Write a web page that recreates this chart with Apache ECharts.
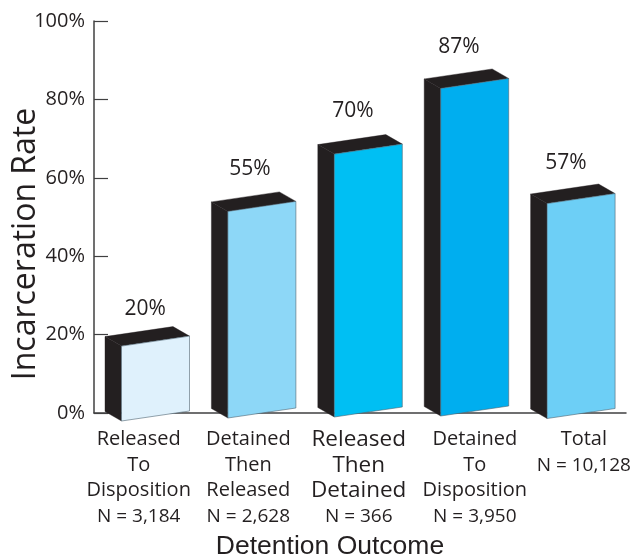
<!DOCTYPE html>
<html><head><meta charset="utf-8">
<style>html,body{margin:0;padding:0;background:#fff}#c{width:644px;height:558px}</style>
<script src="https://cdn.jsdelivr.net/npm/echarts@6/dist/echarts.min.js"></script>
</head><body><div id="c"></div>
<script>
var categories = ['Released\nTo\nDisposition','Detained\nThen\nReleased','Released\nThen\nDetained','Detained\nTo\nDisposition','Total'];
var counts = ['N = 3,184','N = 2,628','N = 366','N = 3,950','N = 10,128'];
var rates = [20,55,70,87,57];
var yTicks = {min:0,max:100,interval:20};
var fillColors = ['#dff1fc','#8dd7f7','#00bff3','#00aeef','#6dcff6'];

// drawing style of the oblique 3D box
var DARK='#231f20', INK='#231f20', SANS='"Open Sans","Noto Sans",sans-serif';
var frontW=68, depthX=16.5, depthY=9.5, slope=10;
var topDrop=[1.5,4,5.5,6.5,4], baseRise=[2,5,6,7,4.5];
var labelDX=[-2,-3.6,-7,-7.4,-6.8], labelDY=[-25.4,-28,-27.4,-25,-26.2];
var catShift=[-8.5,-5.3,-1.3,8.4,11], catSize=[20,20,22.5,20,20];

var rich={};
categories.forEach(function(c,i){
  var s=catShift[i], pad=s<0?[0,-2*s,0,0]:[0,0,0,2*s];
  rich['c'+i]={fontFamily:SANS,fontSize:catSize[i],lineHeight:25.5,color:INK,padding:pad};
  rich['n'+i]={fontFamily:SANS,fontSize:19,lineHeight:25.5,color:INK,padding:pad};
});

function renderBar(params,api){
  var i=api.value(0), v=api.value(1);
  var top=api.coord([i,v]), base=api.coord([i,0]);
  var xr=top[0]+42.3, xl=xr-frontW;
  var yt=top[1]+topDrop[i], yb=base[1]-baseRise[i];
  var edge={stroke:'#4f6472',lineWidth:0.6};
  function poly(points,fill,stroke){
    return {type:'polygon',shape:{points:points},style:Object.assign({fill:fill},stroke||{stroke:DARK,lineWidth:0.4})};
  }
  return {type:'group',children:[
    poly([[xl-depthX,yt+slope-depthY],[xl,yt+slope],[xl,yb+slope],[xl-depthX,yb+slope-depthY]],DARK),
    poly([[xl-depthX,yt+slope-depthY],[xr-depthX,yt-depthY],[xr,yt],[xl,yt+slope]],DARK),
    poly([[xl,yt+slope],[xr,yt],[xr,yb],[xl,yb+slope]],fillColors[i],edge),
    {type:'text',style:{text:v+'%',x:top[0]+labelDX[i],y:top[1]+labelDY[i],align:'center',verticalAlign:'middle',
      fontFamily:SANS,fontSize:21,fill:INK}}
  ]};
}

var chart=echarts.init(document.getElementById('c'),null,{renderer:'canvas'});
chart.setOption({
  animation:false,
  backgroundColor:'#fff',
  grid:{left:94,right:18,top:21,bottom:145,containLabel:false,outerBoundsMode:'none'},
  xAxis:{type:'category',data:categories,
    axisLine:{lineStyle:{color:'#404041',width:1.5}},axisTick:{show:false},
    axisLabel:{margin:14,interval:0,hideOverlap:false,rich:rich,
      formatter:function(val,idx){
        return val.split('\n').map(function(l){return '{c'+idx+'|'+l+'}';}).join('\n')+'\n{n'+idx+'|'+counts[idx]+'}';
      }},
    name:'Detention Outcome',nameLocation:'middle',nameGap:120,
    nameTextStyle:{fontFamily:'"Liberation Sans",Arial,sans-serif',fontSize:26.5,color:INK,padding:[0,60,0,0]}},
  yAxis:{type:'value',min:yTicks.min,max:yTicks.max,interval:yTicks.interval,
    splitLine:{show:false},
    axisLine:{show:true,lineStyle:{color:'#404041',width:1.5}},
    axisTick:{show:true,inside:true,length:14,lineStyle:{color:'#404041',width:1.2}},
    axisLabel:{margin:9,fontFamily:SANS,fontSize:20,color:INK,formatter:'{value}%'},
    name:'Incarceration Rate',nameLocation:'middle',nameGap:52,nameMoveOverlap:false,
    nameTextStyle:{fontFamily:SANS,fontSize:32,color:INK,padding:[0,54,0,0]}},
  series:[{type:'custom',coordinateSystem:'cartesian2d',clip:false,z:3,
    encode:{x:0,y:1},
    data:rates.map(function(r,i){return [i,r];}),
    renderItem:renderBar}]
});
</script></body></html>
